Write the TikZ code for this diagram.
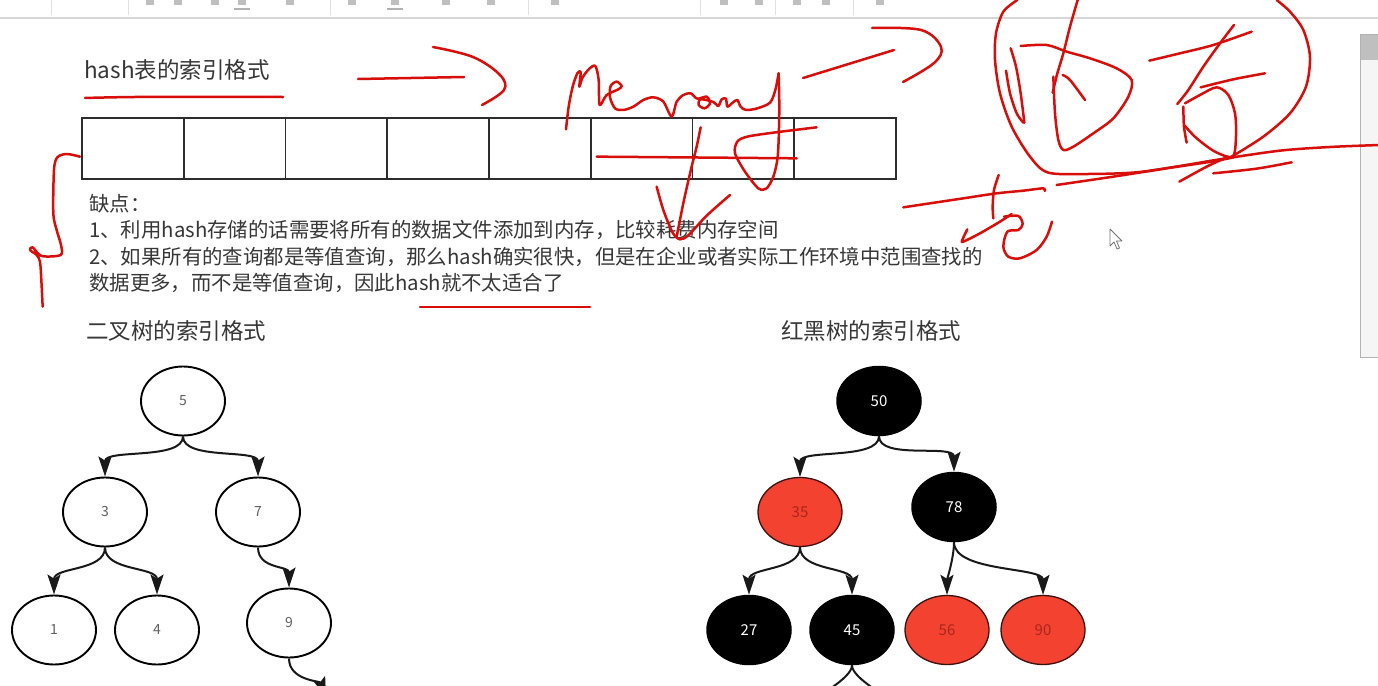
\documentclass[tikz,border=0pt]{standalone}
\usepackage{fontspec}
\setmainfont{Noto Sans CJK SC}
\usetikzlibrary{shapes.geometric,arrows.meta}
\definecolor{hwred}{RGB}{216,14,10}
\definecolor{txtgray}{RGB}{55,55,55}
\definecolor{numgray}{RGB}{95,95,95}
\definecolor{rbfill}{RGB}{243,66,48}
\definecolor{rbtxt}{RGB}{170,38,28}
\definecolor{tblgray}{RGB}{45,45,45}
\definecolor{uigray}{RGB}{215,215,215}
\tikzset{
  titletext/.style={anchor=base west, inner sep=0pt, text=txtgray, font=\fontsize{22.5pt}{27pt}\selectfont},
  bodytext/.style={anchor=base west, inner sep=0pt, text=txtgray, font=\fontsize{20.4pt}{24pt}\selectfont},
  cellbox/.style={draw=tblgray, line width=1.8pt, minimum width=101.75pt, minimum height=61pt, inner sep=0pt, anchor=north west},
  bnode/.style={ellipse, draw=black, line width=1.9pt, minimum width=84pt, minimum height=69pt, inner sep=0pt, text=numgray, font=\fontsize{14pt}{16pt}\selectfont},
  rbblack/.style={ellipse, draw=black, fill=black, line width=1.5pt, minimum width=84pt, minimum height=69pt, inner sep=0pt, text=white, font=\fontsize{15pt}{17pt}\selectfont},
  rbred/.style={ellipse, draw=black!75!rbfill, fill=rbfill, line width=1.3pt, minimum width=84pt, minimum height=69pt, inner sep=0pt, text=rbtxt, font=\fontsize{15pt}{17pt}\selectfont},
  treeedge/.style={draw=black!90, line width=2pt, -{Stealth[length=20pt,width=13pt,inset=4pt]}},
  hw/.style={draw=hwred, line width=2.5pt, line cap=round, line join=round},
}
\begin{document}
\begin{tikzpicture}[x=1pt,y=-1pt]
\clip (0,0) rectangle (1378,685);
\fill[white] (0,0) rectangle (1378,685);

% toolbar strip
\draw[uigray, line width=1.5pt] (0,18) -- (1378,18);
\foreach \sx in {51,128,330,528,700,775,853} {\draw[black!12, line width=0.8pt] (\sx,0) -- (\sx,15);}
\foreach \ix in {150,178,215,242,290,352,395,446,491,555,724,759,797,826,880} {\fill[black!25] (\ix-4,0) rectangle (\ix+4,5);}
\fill[black!30] (395-8,8) rectangle (395+8,10);
\fill[black!30] (242-8,8) rectangle (242+8,10);

% right panel
\draw[black!30, fill=black!4, line width=0.8pt] (1360,34) rectangle (1385,357);
\fill[black!25] (1361,35) rectangle (1385,60);

% titles and text
\node[titletext] (t1) at (84,78) {hash表的索引格式};
\node[bodytext] (d0) at (89,211) {缺点：};
\node[bodytext] (d1) at (89,237) {1、利用hash存储的话需要将所有的数据文件添加到内存，比较耗费内存空间};
\node[bodytext] (d2) at (89,264) {2、如果所有的查询都是等值查询，那么hash确实很快，但是在企业或者实际工作环境中范围查找的};
\node[bodytext] (d3) at (89,290) {数据更多，而不是等值查询，因此hash就不太适合了};
\node[titletext] (t2) at (86,339) {二叉树的索引格式};
\node[titletext] (t3) at (781,339) {红黑树的索引格式};

% hash table cells
\foreach \i in {0,...,7} {\node[cellbox] (c\i) at (81+\i*101.75,117) {};}

% binary tree
\node[bnode] (n5) at (183,401) {5};
\node[bnode] (n3) at (105,512) {3};
\node[bnode] (n7) at (258,512) {7};
\node[bnode] (n1) at (54,630) {1};
\node[bnode] (n4) at (157,630) {4};
\node[bnode] (n9) at (289,623) {9};
\coordinate (n9c) at (326,697);
\draw[treeedge] (n5.south) .. controls +(0,24) and +(0,-28) .. (n3.north);
\draw[treeedge] (n5.south) .. controls +(0,24) and +(0,-28) .. (n7.north);
\draw[treeedge] (n3.south) .. controls +(0,24) and +(0,-28) .. (n1.north);
\draw[treeedge] (n3.south) .. controls +(0,24) and +(0,-28) .. (n4.north);
\draw[treeedge] (n7.south) .. controls +(0,22) and +(0,-22) .. (n9.north);
\draw[treeedge] (n9.south) .. controls +(0,22) and +(-6,-16) .. (n9c);

% red-black tree
\node[rbblack] (r50) at (879,401) {50};
\node[rbred] (r35) at (800,512) {35};
\node[rbblack] (r78) at (954,507) {78};
\node[rbblack] (r27) at (749,630) {27};
\node[rbblack] (r45) at (852,630) {45};
\node[rbred] (r56) at (947,630) {56};
\node[rbred] (r90) at (1043,630) {90};
\coordinate (r45a) at (812,722);
\coordinate (r45b) at (892,722);
\draw[treeedge] (r50.south) .. controls +(0,24) and +(0,-28) .. (r35.north);
\draw[treeedge] (r50.south) .. controls +(0,24) and +(0,-28) .. (r78.north);
\draw[treeedge] (r35.south) .. controls +(0,24) and +(0,-28) .. (r27.north);
\draw[treeedge] (r35.south) .. controls +(0,24) and +(0,-28) .. (r45.north);
\draw[treeedge] (r78.south) .. controls +(0,15) and +(0,-15) .. (r56.north);
\draw[treeedge] (r78.south) .. controls +(0,30) and +(0,-28) .. (r90.north);
\draw[treeedge] (r45.south) .. controls +(0,14) and +(0,-25) .. (r45a);
\draw[treeedge] (r45.south) .. controls +(0,14) and +(0,-25) .. (r45b);

% ---------- red handwriting ----------
\draw[hw] (85,98) .. controls (150,96) and (220,97) .. (283,97);
\draw[hw] (358,79) -- (464,77);
\draw[hw] plot[smooth, tension=0.6] coordinates {(433,47) (473,57) (500,75) (504,90) (482,105)};
\draw[hw] (420,307) -- (590,307);
\draw[hw] (803,78) -- (894,50);
\draw[hw] plot[smooth, tension=0.6] coordinates {(872,28) (921,30) (941,47) (934,63) (903,82)};

% "memory"
\begin{scope}[shift={(540,40)}, xscale=0.3333, yscale=0.3333]
\draw[hw] plot[smooth, tension=0.5] coordinates {(78,268) (86,200) (98,140) (112,100) (122,96) (118,140) (128,112) (148,86) (166,78) (176,120) (179,195) (200,165) (235,148) (245,138) (230,125) (212,138) (210,172) (225,205) (250,210) (280,200) (310,180) (340,172) (370,185) (395,230) (410,185) (430,165) (452,160) (472,176) (500,170) (510,190) (494,205) (476,195) (482,178) (520,186) (535,198) (545,178) (558,176) (562,200) (578,188) (592,180) (602,200) (618,210) (652,205) (690,188) (706,150) (716,100)};
\draw[hw] plot[smooth, tension=0.5] coordinates {(716,100) (718,200) (716,300) (712,360) (700,410) (680,445) (655,445) (615,395) (585,340) (592,305) (622,290) (700,278) (830,262)};
\draw[hw] (170,350) -- (770,355);
\draw[hw] plot[smooth, tension=0.5] coordinates {(482,262) (470,320) (455,380) (432,480) (410,590)};
\draw[hw] plot[smooth, tension=0.5] coordinates {(350,440) (370,510) (398,578) (420,598) (446,585) (500,527) (570,465)};
\end{scope}

% circle around the characters
\begin{scope}[shift={(980,0)}, xscale=0.3333, yscale=0.3333]
\draw[hw] plot[smooth, tension=0.5] coordinates {(112,0) (70,35) (48,100) (45,180) (60,280) (95,380) (150,470) (205,518) (330,522) (470,517) (600,498) (720,478) (900,452) (1050,441) (1200,435)};
\draw[hw] plot[smooth, tension=0.5] coordinates {(755,470) (850,410) (930,340) (978,260) (990,170) (970,90) (930,35) (890,0)};
\draw[hw] plot[smooth, tension=0.5] coordinates {(230,555) (400,530) (560,505) (700,484) (760,472)};
\draw[hw] plot[smooth, tension=0.5] coordinates {(598,545) (680,500) (745,470)};
\draw[hw] plot[smooth, tension=0.5] coordinates {(700,520) (830,506) (935,487)};
% nei
\draw[hw] plot[smooth, tension=0.5] coordinates {(92,145) (108,200) (122,280) (133,368)};
\draw[hw] plot[smooth, tension=0.5] coordinates {(78,212) (90,280) (110,340) (130,368)};
\draw[hw] plot[smooth, tension=0.5] coordinates {(293,0) (270,80) (250,160) (232,220) (218,278)};
\draw[hw] plot[smooth, tension=0.5] coordinates {(122,138) (200,135) (260,155) (330,175) (410,205) (455,240) (445,290) (400,355) (340,400) (280,440) (250,450) (235,420) (225,340) (220,230)};
\draw[hw] plot[smooth, tension=0.5] coordinates {(248,225) (270,240) (315,300)};
% cun
\draw[hw] plot[smooth, tension=0.5] coordinates {(508,182) (600,160) (700,135) (815,95)};
\draw[hw] plot[smooth, tension=0.5] coordinates {(762,75) (720,130) (670,200) (625,270) (592,312)};
\draw[hw] plot[smooth, tension=0.5] coordinates {(662,262) (760,238) (855,220)};
\draw[hw] plot[smooth, tension=0.5] coordinates {(610,320) (612,380) (620,428)};
\draw[hw] plot[smooth, tension=0.5] coordinates {(615,310) (660,285) (710,262) (745,285) (765,340) (768,410) (758,470) (705,455) (650,415) (612,375)};
\end{scope}

% ke
\begin{scope}[shift={(880,150)}, xscale=0.3333, yscale=0.3333]
\draw[hw] plot[smooth, tension=0.5] coordinates {(70,172) (150,160) (250,145) (350,130) (430,122) (490,115) (494,123)};
\draw[hw] plot[smooth, tension=0.5] coordinates {(356,75) (342,120) (338,170) (340,205)};
\draw[hw] plot[smooth, tension=0.3] coordinates {(262,238) (246,276) (300,250) (360,215) (395,192)};
\draw[hw] plot[smooth, tension=0.5] coordinates {(372,200) (415,198) (428,222) (415,240) (382,245) (370,290) (385,320) (420,325) (470,300) (500,260) (516,215)};
\end{scope}

% left brace
\begin{scope}[shift={(0,130)}, xscale=0.3333, yscale=0.3333]
\draw[hw] plot[smooth, tension=0.5] coordinates {(240,80) (200,72) (172,82) (162,120) (160,250) (170,300) (183,345) (182,375) (125,378) (98,352) (90,360) (110,375) (120,395) (124,450) (128,530)};
\end{scope}

% mouse cursor
\draw[black!55, fill=white, line width=0.8pt, line join=round] (1110,229) -- (1110,246) -- (1114,242) -- (1117,249) -- (1119.5,248) -- (1116.5,241) -- (1122,241) -- cycle;
\end{tikzpicture}
\end{document}
